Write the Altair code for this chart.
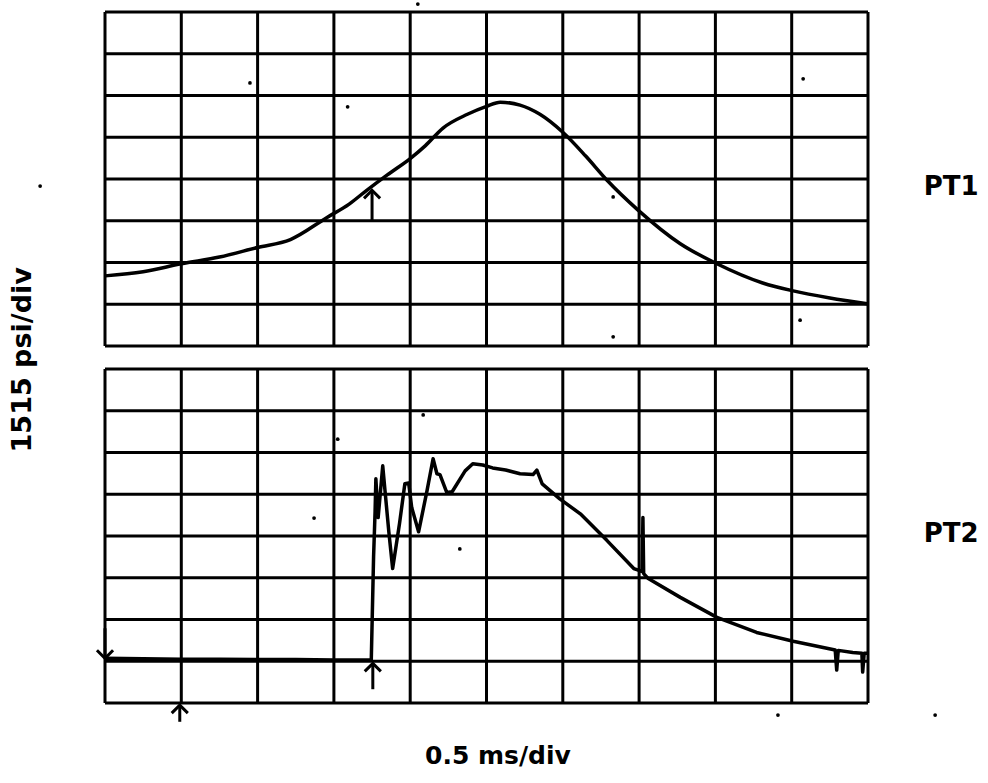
import altair as alt
import pandas as pd

# ---- data (in screen divisions: 10 across = 0.5 ms/div, 8 up = 1515 psi/div) ----
pt1_x = [0.0, 0.5, 1.0, 1.5, 2.0, 2.43, 2.91, 3.2, 3.43, 3.7, 4.0, 4.2, 4.43, 4.75, 5.0,
         5.18, 5.44, 5.7, 6.0, 6.3, 6.58, 6.99, 7.54, 8.02, 8.62, 9.02, 9.5, 9.99]
pt1_y = [1.68, 1.78, 1.97, 2.13, 2.36, 2.55, 3.08, 3.4, 3.73, 4.1, 4.49, 4.8, 5.22, 5.55, 5.74,
         5.84, 5.77, 5.55, 5.12, 4.55, 3.97, 3.25, 2.45, 1.97, 1.51, 1.32, 1.15, 1.01]

pt2_x = [0.0, 0.5, 1.0, 1.5, 2.0, 2.5, 3.0, 3.49, 3.52, 3.54, 3.55, 3.58, 3.64, 3.67, 3.72,
         3.77, 3.86, 3.93, 3.98, 4.02, 4.11, 4.22, 4.30, 4.35, 4.39, 4.48, 4.55, 4.72, 4.82,
         4.95, 5.08, 5.25, 5.44, 5.61, 5.66, 5.73, 5.96, 6.23, 6.58, 6.93, 6.99, 7.04, 7.05,
         7.06, 7.12, 7.54, 8.02, 8.54, 9.02, 9.57, 9.59, 9.61, 9.80, 9.92, 9.93, 9.95, 10.0]
pt2_y = [1.07, 1.06, 1.05, 1.05, 1.04, 1.04, 1.03, 1.03, 3.5, 4.6, 5.37, 4.44, 5.68, 5.08, 4.10,
         3.22, 4.30, 5.25, 5.27, 4.68, 4.10, 5.08, 5.85, 5.49, 5.47, 5.04, 5.06, 5.56, 5.73,
         5.70, 5.63, 5.58, 5.49, 5.47, 5.58, 5.25, 4.89, 4.53, 3.89, 3.22, 3.18, 3.15, 4.44,
         3.10, 2.98, 2.53, 2.05, 1.69, 1.48, 1.27, 0.79, 1.26, 1.21, 1.19, 0.74, 1.19, 1.19]

grid_cols = list(range(11))
grid_rows = list(range(9))

# trigger arrows: panel, x, tail, tip
up_panel = ["PT1", "PT2", "PT2"]
up_x = [3.5, 3.51, 0.98]
up_tail = [3.0, 0.33, -0.45]
up_tip = [3.73, 0.95, -0.05]
down_panel = ["PT2"]
down_x = [0.0]
down_tail = [1.79]
down_tip = [1.07]

speck_x = [1.90, 3.18, 4.10, 9.15, 6.66, 6.66, 9.11, -0.85, 3.05, 2.74, 4.17, 4.65, 8.82, 10.88]
speck_y = [14.85, 14.28, 16.74, 14.95, 12.12, 8.77, 9.17, 12.38, 6.32, 4.43, 6.90, 3.69, -0.29, -0.29]

trace_labels = ["PT1", "PT2"]
label_x = [11.09, 11.09]
label_y = [12.36, 4.05]
x_title = "0.5 ms/div"
y_title = "1515 psi/div"

PANEL_GAP = 0.55
OFFSET = {"PT1": 8 + PANEL_GAP, "PT2": 0.0}

# ---- tables ----
pt1 = pd.DataFrame({"x": pt1_x, "y": [v + OFFSET["PT1"] for v in pt1_y],
                    "i": range(len(pt1_x))})
pt2 = pd.DataFrame({"x": pt2_x, "y": pt2_y, "i": range(len(pt2_x))})

vgrid = pd.DataFrame([{"x": c, "y0": off, "y1": off + 8}
                      for off in OFFSET.values() for c in grid_cols])
hgrid = pd.DataFrame([{"y": off + r, "x0": 0, "x1": 10}
                      for off in OFFSET.values() for r in grid_rows])

up = pd.DataFrame({"x": up_x,
                   "tail": [t + OFFSET[p] for t, p in zip(up_tail, up_panel)],
                   "tip": [t + OFFSET[p] for t, p in zip(up_tip, up_panel)]})
down = pd.DataFrame({"x": down_x,
                     "tail": [t + OFFSET[p] for t, p in zip(down_tail, down_panel)],
                     "tip": [t + OFFSET[p] for t, p in zip(down_tip, down_panel)]})
specks = pd.DataFrame({"x": speck_x, "y": speck_y})
labels = pd.DataFrame({"label": trace_labels, "x": label_x, "y": label_y})
xt = pd.DataFrame({"label": [x_title], "x": [5.15], "y": [-1.27]})
yt = pd.DataFrame({"label": [y_title], "x": [-1.075], "y": [8.22]})

XS = alt.Scale(domain=[0, 10], nice=False, zero=False)
YS = alt.Scale(domain=[0, 16 + PANEL_GAP], nice=False, zero=False)


def X(f):
    return alt.X(f, type="quantitative", scale=XS, axis=None)


def Y(f):
    return alt.Y(f, type="quantitative", scale=YS, axis=None)


vlines = alt.Chart(vgrid).mark_rule(color="black", strokeWidth=3).encode(
    x=X("x"), y=Y("y0"), y2="y1")
hlines = alt.Chart(hgrid).mark_rule(color="black", strokeWidth=3).encode(
    y=Y("y"), x=X("x0"), x2="x1")

line1 = alt.Chart(pt1).mark_line(color="black", strokeWidth=3.5, strokeJoin="round",
                                 interpolate="monotone").encode(
    x=X("x"), y=Y("y"), order="i:Q")
line2 = alt.Chart(pt2).mark_line(color="black", strokeWidth=3.5, strokeJoin="round").encode(
    x=X("x"), y=Y("y"), order="i:Q")

up_stem = alt.Chart(up).mark_rule(color="black", strokeWidth=3).encode(
    x=X("x"), y=Y("tail"), y2="tip")
up_head = alt.Chart(up).mark_point(shape="M-1,1L0,0L1,1", filled=False, color="black",
                                   strokeWidth=3, size=260, opacity=1).encode(
    x=X("x"), y=Y("tip"))
down_stem = alt.Chart(down).mark_rule(color="black", strokeWidth=3).encode(
    x=X("x"), y=Y("tail"), y2="tip")
down_head = alt.Chart(down).mark_point(shape="M-1,-1L0,0L1,-1", filled=False, color="black",
                                       strokeWidth=3, size=260, opacity=1).encode(
    x=X("x"), y=Y("tip"))

dots = alt.Chart(specks).mark_circle(color="black", size=14, opacity=1).encode(
    x=X("x"), y=Y("y"))

lab = alt.Chart(labels).mark_text(font="DejaVu Sans", fontWeight="bold", fontSize=26,
                                  color="black", align="center", baseline="middle").encode(
    x=X("x"), y=Y("y"), text="label:N")
xlab = alt.Chart(xt).mark_text(font="DejaVu Sans", fontWeight="bold", fontSize=25,
                               color="black", align="center", baseline="middle").encode(
    x=X("x"), y=Y("y"), text="label:N")
ylab = alt.Chart(yt).mark_text(font="DejaVu Sans", fontWeight="bold", fontSize=27, angle=270,
                               color="black", align="center", baseline="middle").encode(
    x=X("x"), y=Y("y"), text="label:N")

chart = alt.layer(vlines, hlines, line1, line2, up_stem, up_head, down_stem, down_head,
                  dots, lab, xlab, ylab).properties(
    width=763, height=691,
    autosize=alt.AutoSizeParams(type="none"),
    padding={"left": 105, "top": 12, "right": 120, "bottom": 80},
    background="white",
).configure_view(stroke=None)

chart.save("out.html", embed_options={"renderer": "svg", "actions": False})
